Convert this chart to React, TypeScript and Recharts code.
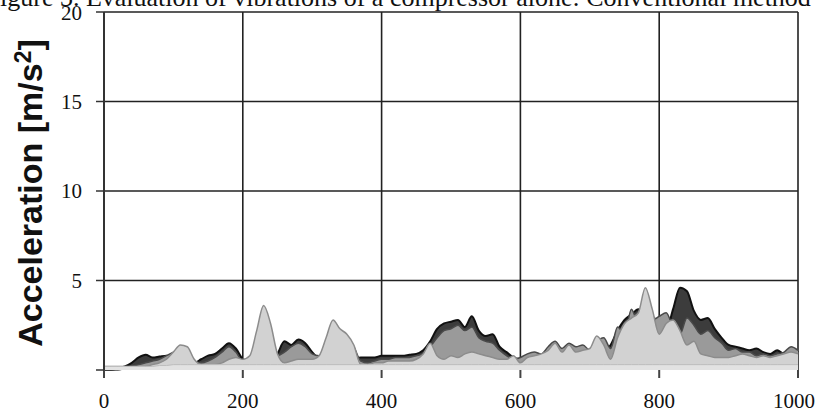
import { ComposedChart, Area, XAxis, YAxis, CartesianGrid } from "recharts";

const freq = Array.from({ length: 101 }, (_, i) => i * 10);

// grey layers of the waterfall, back (dark) to front (light)
const darkLayer = [
  0, 0, 0.1, 0.2, 0.4, 0.7, 0.85, 0.7, 0.75, 0.8, 0.7, 0.5, 0.4, 0.4, 0.6, 0.8, 0.9, 1.2, 1.5, 1.2,
  0.6, 0.4, 0.3, 0.3, 0.4, 0.9, 1.6, 1.4, 1.7, 1.5, 1.0, 0.6, 0.4, 0.4, 0.4, 0.5, 0.6, 0.7, 0.7, 0.7,
  0.8, 0.8, 0.8, 0.8, 0.85, 0.9, 1.1, 1.6, 2.3, 2.6, 2.7, 2.8, 2.4, 3.0, 2.2, 1.9, 2.0, 1.3, 1.0, 0.7,
  0.6, 0.7, 0.8, 0.8, 0.8, 0.8, 0.8, 0.9, 0.8, 0.9, 0.8, 0.9, 1.0, 1.4, 2.2, 2.8, 3.1, 3.4, 3.2, 3.0,
  2.6, 2.2, 3.4, 4.6, 4.4, 3.3, 2.8, 2.9, 2.3, 1.8, 1.4, 1.3, 1.2, 1.1, 1.2, 1.0, 0.9, 1.1, 0.9, 1.2,
  1.0,
];
const midLayer = [
  0, 0, 0, 0.1, 0.2, 0.3, 0.4, 0.5, 0.6, 0.8, 1.0, 1.2, 1.0, 0.5, 0.4, 0.5, 0.7, 1.0, 1.3, 1.0,
  0.5, 0.5, 1.5, 2.6, 2.0, 0.8, 1.0, 1.3, 1.5, 1.3, 0.9, 0.8, 1.6, 2.6, 2.2, 1.8, 1.3, 0.5, 0.4, 0.5,
  0.6, 0.6, 0.7, 0.7, 0.7, 0.8, 0.9, 1.3, 1.8, 2.2, 2.3, 2.5, 2.2, 2.4, 1.8, 1.6, 1.5, 1.1, 0.8, 0.6,
  0.7, 0.9, 1.0, 0.9, 1.3, 1.6, 1.2, 1.5, 1.3, 1.4, 1.1, 1.6, 1.8, 1.2, 2.4, 2.0, 3.4, 2.6, 4.0, 2.8,
  3.0, 3.2, 2.4, 2.0, 2.9, 2.5, 2.0, 2.2, 1.8, 1.5, 1.1, 1.2, 1.0, 1.0, 0.8, 0.9, 0.8, 0.9, 1.0, 1.3,
  1.1,
];
const lightLayer = [
  0.2, 0.2, 0.2, 0.2, 0.2, 0.2, 0.2, 0.3, 0.4, 0.6, 1.0, 1.4, 1.3, 0.6, 0.3, 0.3, 0.3, 0.4, 0.6, 0.7,
  0.6, 0.8, 2.2, 3.6, 2.6, 0.9, 0.4, 0.5, 0.6, 0.6, 0.6, 0.8, 1.8, 2.8, 2.3, 2.0, 1.4, 0.3, 0.3, 0.4,
  0.4, 0.5, 0.5, 0.5, 0.5, 0.6, 0.9, 1.5, 0.8, 0.6, 0.8, 0.7, 0.9, 1.0, 0.9, 0.8, 0.7, 0.6, 0.6, 0.8,
  0.4, 0.7, 0.8, 0.9, 1.1, 1.5, 1.0, 1.4, 1.0, 1.1, 1.2, 1.9, 1.4, 0.6, 1.8, 2.6, 2.9, 3.2, 4.6, 3.4,
  2.0, 2.6, 2.8, 2.2, 1.4, 1.6, 0.9, 0.8, 0.7, 0.7, 0.7, 0.8, 0.9, 0.8, 0.7, 0.8, 0.7, 0.8, 0.9, 1.0,
  0.9,
];
const baseLayer = [
  0.2, 0.2, 0.2, 0.2, 0.2, 0.2, 0.2, 0.2, 0.25, 0.25, 0.3, 0.3, 0.3, 0.3, 0.3, 0.3, 0.3, 0.3, 0.3, 0.3,
  0.3, 0.3, 0.3, 0.3, 0.3, 0.3, 0.3, 0.3, 0.3, 0.3, 0.3, 0.3, 0.3, 0.3, 0.3, 0.3, 0.3, 0.3, 0.3, 0.3,
  0.3, 0.3, 0.3, 0.3, 0.3, 0.3, 0.3, 0.3, 0.3, 0.3, 0.3, 0.3, 0.3, 0.3, 0.3, 0.3, 0.3, 0.3, 0.3, 0.3,
  0.3, 0.3, 0.3, 0.3, 0.3, 0.3, 0.3, 0.3, 0.3, 0.3, 0.3, 0.3, 0.3, 0.3, 0.3, 0.3, 0.3, 0.3, 0.3, 0.3,
  0.3, 0.3, 0.3, 0.3, 0.3, 0.3, 0.3, 0.3, 0.3, 0.3, 0.3, 0.3, 0.3, 0.3, 0.3, 0.3, 0.3, 0.3, 0.3, 0.3,
  0.3,
];

const xTicks = [0, 200, 400, 600, 800, 1000];
const yTicks = [0, 5, 10, 15, 20];

const data = freq.map((f, i) => ({
  f,
  dark: darkLayer[i],
  mid: midLayer[i],
  light: lightLayer[i],
  base: baseLayer[i],
}));

const serif = "'Liberation Serif', 'DejaVu Serif', serif";

function AxisTitle(props: any) {
  const vb = props.viewBox || {};
  const cy = (vb.y ?? 12) + (vb.height ?? 358) / 2;
  return (
    <text
      x={0}
      y={0}
      transform={`translate(42, ${cy + 2}) rotate(-90)`}
      textAnchor="middle"
      fontFamily="'Liberation Sans', Arial, sans-serif"
      fontWeight="bold"
      fontSize={34}
      fill="#111"
    >
      Acceleration{"  "}[m/s
      <tspan fontSize={23} dy={-11}>
        2
      </tspan>
      <tspan dy={11}>]</tspan>
    </text>
  );
}

export default function App() {
  return (
    <div
      style={{
        position: "fixed",
        left: 0,
        top: 0,
        width: 815,
        height: 416,
        overflow: "hidden",
        background: "#fff",
      }}
    >
      <ComposedChart
        width={815}
        height={416}
        data={data}
        margin={{ top: 12, right: 17, bottom: 0, left: 0 }}
      >
        <CartesianGrid
          stroke="#222"
          strokeWidth={1.6}
          horizontalValues={[5, 10, 15, 20]}
          verticalValues={[200, 400, 600, 800, 1000]}
        />
        <XAxis
          dataKey="f"
          type="number"
          domain={[0, 1000]}
          ticks={xTicks}
          height={46}
          axisLine={false}
          tickSize={8}
          tickMargin={15}
          tickLine={{ stroke: "#444", strokeWidth: 2 }}
          tick={{ fontFamily: serif, fontSize: 21, fill: "#111" }}
        />
        <YAxis
          type="number"
          domain={[0, 20]}
          ticks={yTicks}
          width={104}
          axisLine={{ stroke: "#333", strokeWidth: 2 }}
          tickSize={8}
          tickMargin={14}
          tickLine={{ stroke: "#333", strokeWidth: 1.5 }}
          tickFormatter={(v: number) => (v === 0 ? "" : String(v))}
          tick={{ fontFamily: serif, fontSize: 21, fill: "#111" }}
          label={<AxisTitle />}
        />
        <Area
          dataKey="dark"
          type="monotone"
          fill="#3c3c3c"
          fillOpacity={1}
          stroke="#111"
          strokeWidth={2}
          isAnimationActive={false}
        />
        <Area
          dataKey="mid"
          type="monotone"
          fill="#9a9a9a"
          fillOpacity={1}
          stroke="#4a4a4a"
          strokeWidth={1.5}
          isAnimationActive={false}
        />
        <Area
          dataKey="light"
          type="monotone"
          fill="#d2d2d2"
          fillOpacity={1}
          stroke="#8c8c8c"
          strokeWidth={1.5}
          isAnimationActive={false}
        />
        <Area
          dataKey="base"
          type="monotone"
          fill="#e2e2e2"
          fillOpacity={1}
          stroke="#bdbdbd"
          strokeWidth={1}
          isAnimationActive={false}
        />
      </ComposedChart>
      <div
        style={{
          position: "absolute",
          left: 0,
          top: -15,
          fontFamily: serif,
          fontSize: 26,
          lineHeight: "26px",
          whiteSpace: "nowrap",
          color: "#111",
        }}
      >
        igure 3. Evaluation of vibrations of a compressor alone: Conventional method
      </div>
    </div>
  );
}
